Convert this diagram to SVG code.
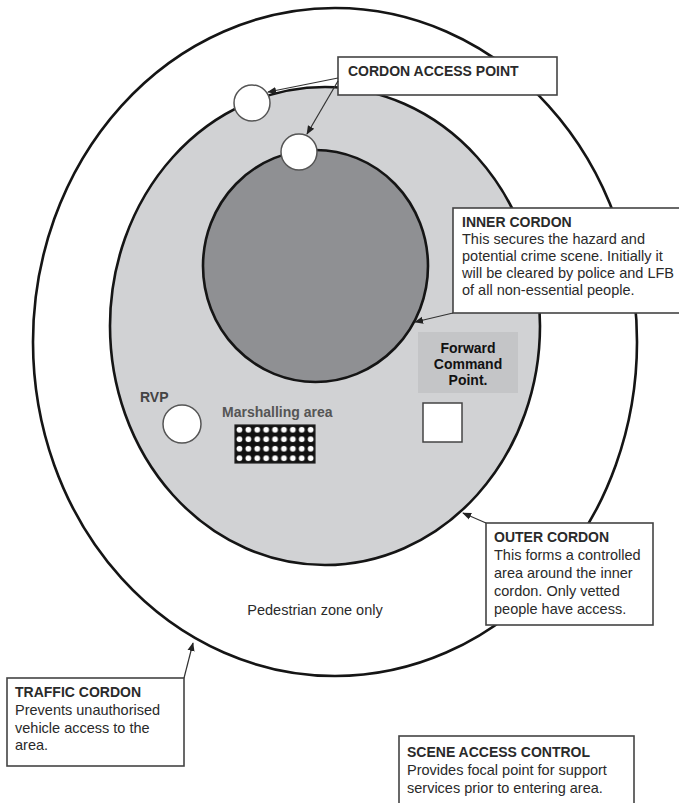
<svg xmlns="http://www.w3.org/2000/svg" width="679" height="803" viewBox="0 0 679 803">
<defs>
<style>
.t{font-family:"Liberation Sans",Arial,sans-serif;font-size:14.5px;fill:#2a2a2a}
.b{font-weight:bold;font-size:14px}
.box{fill:#fff;stroke:#444;stroke-width:1.6}
.ring{stroke:#151515;stroke-width:2.6}
.ap{fill:#fff;stroke:#555;stroke-width:1.5}
.con{stroke:#333;stroke-width:1.2;fill:none;marker-end:url(#ah)}
</style>
<marker id="ah" viewBox="0 0 10 10" refX="9" refY="5" markerWidth="9" markerHeight="9" markerUnits="userSpaceOnUse" orient="auto">
<path d="M0,1 L10,5 L0,9 z" fill="#222"/>
</marker>
<pattern id="chk" x="235" y="425" width="8.9" height="9.5" patternUnits="userSpaceOnUse">
<rect width="8.9" height="9.5" fill="#111"/>
<circle cx="4.45" cy="4.75" r="2.9" fill="#fff"/>
</pattern>
</defs>
<rect width="679" height="803" fill="#fff"/>
<g id="traffic-cordon-ring"><ellipse cx="335" cy="342" rx="302" ry="334" fill="#fff" class="ring"/></g>
<g id="outer-cordon-ring"><ellipse cx="325" cy="326" rx="215" ry="239" fill="#d1d2d4" class="ring"/></g>
<g id="inner-cordon-ring"><ellipse cx="315.5" cy="266" rx="112.5" ry="116" fill="#8f9093" class="ring"/></g>
<g id="access-point-1"><circle cx="252" cy="103" r="18" class="ap"/></g>
<g id="access-point-2"><circle cx="299" cy="152" r="18" class="ap"/></g>
<g id="forward-command-point">
<rect x="418" y="332" width="100" height="61" fill="#c4c5c7"/>
<text class="t b" x="468" y="353" text-anchor="middle" style="fill:#111">Forward</text>
<text class="t b" x="468" y="369" text-anchor="middle" style="fill:#111">Command</text>
<text class="t b" x="468" y="385" text-anchor="middle" style="fill:#111">Point.</text>
<rect x="423" y="403" width="39" height="39" fill="#fff" stroke="#444" stroke-width="1.5"/>
</g>
<g id="rvp">
<text class="t b" x="140" y="402" style="fill:#444">RVP</text>
<circle cx="182" cy="424" r="19" class="ap"/>
</g>
<g id="marshalling-area">
<text class="t b" x="222" y="417" style="fill:#555">Marshalling area</text>
<rect x="235" y="425" width="80" height="38" fill="url(#chk)" stroke="#222" stroke-width="1.2"/>
</g>
<g id="pedestrian-zone"><text class="t" x="315" y="615" text-anchor="middle">Pedestrian zone only</text></g>
<g id="cordon-access-point-label">
<rect x="338" y="57" width="219" height="38" class="box"/>
<text class="t b" x="348" y="76">CORDON ACCESS POINT</text>
</g>
<g id="inner-cordon-label">
<rect x="453" y="208" width="230" height="105" class="box"/>
<text class="t" x="462"><tspan class="b" x="462" y="227">INNER CORDON</tspan><tspan x="462" y="244">This secures the hazard and</tspan><tspan x="462" y="261">potential crime scene. Initially it</tspan><tspan x="462" y="278">will be cleared by police and LFB</tspan><tspan x="462" y="295">of all non-essential people.</tspan></text>
</g>
<g id="outer-cordon-label">
<rect x="486" y="523" width="167" height="102" class="box"/>
<text class="t" x="494"><tspan class="b" x="494" y="542">OUTER CORDON</tspan><tspan x="494" y="560">This forms a controlled</tspan><tspan x="494" y="578">area around the inner</tspan><tspan x="494" y="596">cordon. Only vetted</tspan><tspan x="494" y="614">people have access.</tspan></text>
</g>
<g id="traffic-cordon-label">
<rect x="7" y="678" width="177" height="88" class="box"/>
<text class="t" x="15"><tspan class="b" x="15" y="697">TRAFFIC CORDON</tspan><tspan x="15" y="715">Prevents unauthorised</tspan><tspan x="15" y="733">vehicle access to the</tspan><tspan x="15" y="750">area.</tspan></text>
</g>
<g id="scene-access-control-label">
<rect x="399" y="736" width="235" height="75" class="box"/>
<text class="t" x="407"><tspan class="b" x="407" y="757">SCENE ACCESS CONTROL</tspan><tspan x="407" y="775">Provides focal point for support</tspan><tspan x="407" y="793">services prior to entering area.</tspan></text>
</g>
<g id="connectors">
<line class="con" x1="338" y1="78" x2="268" y2="92"/>
<line class="con" x1="338" y1="81" x2="307" y2="134"/>
<line class="con" x1="453" y1="313" x2="415" y2="322"/>
<line class="con" x1="486" y1="523" x2="463" y2="513"/>
<line class="con" x1="184" y1="678" x2="193" y2="643"/>
</g>
</svg>
